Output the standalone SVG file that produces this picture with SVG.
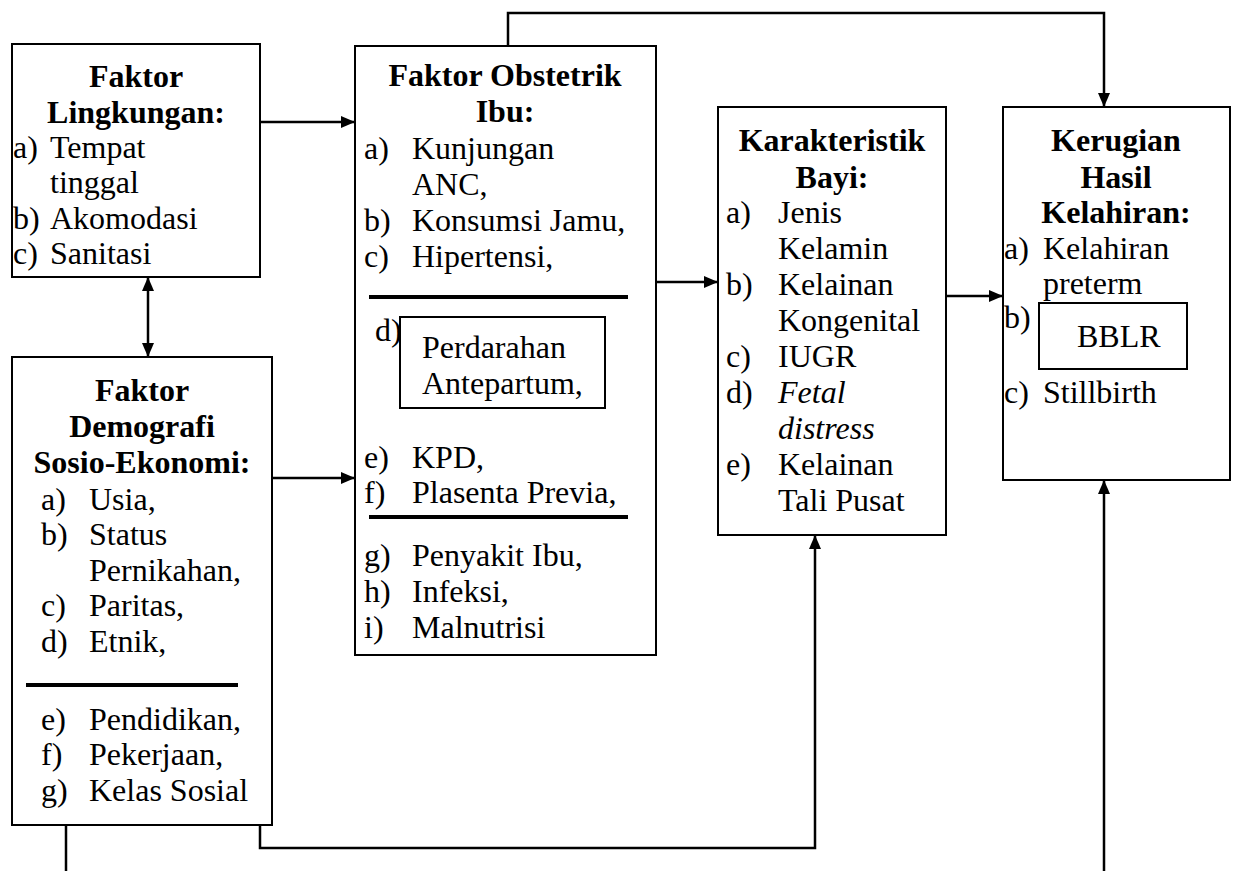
<svg xmlns="http://www.w3.org/2000/svg" width="1240" height="871" viewBox="0 0 1240 871" font-family="'Liberation Serif', 'DejaVu Serif', serif">
<defs>
<marker id="ah" markerUnits="userSpaceOnUse" markerWidth="14" markerHeight="12" viewBox="0 0 14 12" refX="14" refY="6" orient="auto-start-reverse">
<path d="M0,0 L14,6 L0,12 Z" fill="#000"/>
</marker>
</defs>
<style>
.box{fill:#fff;stroke:#000;stroke-width:2}
.sep{stroke:#000;stroke-width:4}
.con{fill:none;stroke:#000;stroke-width:2.5}
text{font-family:'Liberation Serif','DejaVu Serif',serif;font-size:32px;fill:#000}
.h{font-weight:bold;text-anchor:middle}
.i{font-style:italic}
</style>
<rect width="1240" height="871" fill="#fff"/>
<g id="connectors">
<line class="con" x1="260" y1="122" x2="355" y2="122" marker-end="url(#ah)"/>
<line class="con" x1="148" y1="277" x2="148" y2="357" marker-start="url(#ah)" marker-end="url(#ah)"/>
<line class="con" x1="272" y1="478" x2="355" y2="478" marker-end="url(#ah)"/>
<line class="con" x1="656" y1="282" x2="718" y2="282" marker-end="url(#ah)"/>
<line class="con" x1="946" y1="296" x2="1003" y2="296" marker-end="url(#ah)"/>
<polyline class="con" points="508,46 508,13 1104,13 1104,107" marker-end="url(#ah)"/>
<polyline class="con" points="260,825 260,848 815,848 815,535" marker-end="url(#ah)"/>
<line class="con" x1="66" y1="825" x2="66" y2="871"/>
<line class="con" x1="1104" y1="871" x2="1104" y2="480" marker-end="url(#ah)"/>
</g>
<g id="lingkungan">
<rect class="box" x="12" y="44" width="248" height="233"/>
<text class="h" x="136" y="87">Faktor</text>
<text class="h" x="136" y="123">Lingkungan:</text>
<text x="13" y="158">a)</text><text x="50" y="158">Tempat</text>
<text x="50" y="193">tinggal</text>
<text x="13" y="229">b)</text><text x="50" y="229">Akomodasi</text>
<text x="13" y="264">c)</text><text x="50" y="264">Sanitasi</text>
</g>
<g id="obstetrik">
<rect class="box" x="355" y="46" width="301" height="609"/>
<text class="h" x="505" y="86">Faktor Obstetrik</text>
<text class="h" x="505" y="122">Ibu:</text>
<text x="364" y="159">a)</text><text x="412" y="159">Kunjungan</text>
<text x="412" y="195">ANC,</text>
<text x="364" y="231">b)</text><text x="412" y="231">Konsumsi Jamu,</text>
<text x="364" y="267">c)</text><text x="412" y="267">Hipertensi,</text>
<line class="sep" x1="369" y1="297" x2="628" y2="297"/>
<text x="375" y="341">d)</text>
<rect class="box" x="400" y="317" width="205" height="91"/>
<text x="422" y="358">Perdarahan</text>
<text x="422" y="394">Antepartum,</text>
<text x="364" y="468">e)</text><text x="412" y="468">KPD,</text>
<text x="364" y="503">f)</text><text x="412" y="503">Plasenta Previa,</text>
<line class="sep" x1="369" y1="517" x2="628" y2="517"/>
<text x="364" y="566">g)</text><text x="412" y="566">Penyakit Ibu,</text>
<text x="364" y="602">h)</text><text x="412" y="602">Infeksi,</text>
<text x="364" y="638">i)</text><text x="412" y="638">Malnutrisi</text>
</g>
<g id="bayi">
<rect class="box" x="718" y="107" width="228" height="428"/>
<text class="h" x="832" y="151">Karakteristik</text>
<text class="h" x="832" y="188">Bayi:</text>
<text x="726" y="223">a)</text><text x="778" y="223">Jenis</text>
<text x="778" y="259">Kelamin</text>
<text x="726" y="295">b)</text><text x="778" y="295">Kelainan</text>
<text x="778" y="331">Kongenital</text>
<text x="726" y="367">c)</text><text x="778" y="367">IUGR</text>
<text x="726" y="403">d)</text><text class="i" x="778" y="403">Fetal</text>
<text class="i" x="778" y="439">distress</text>
<text x="726" y="475">e)</text><text x="778" y="475">Kelainan</text>
<text x="778" y="511">Tali Pusat</text>
</g>
<g id="kerugian">
<rect class="box" x="1003" y="107" width="227" height="373"/>
<text class="h" x="1116" y="151">Kerugian</text>
<text class="h" x="1116" y="188">Hasil</text>
<text class="h" x="1116" y="223">Kelahiran:</text>
<text x="1004" y="259">a)</text><text x="1043" y="259">Kelahiran</text>
<text x="1043" y="294">preterm</text>
<text x="1004" y="328">b)</text>
<rect class="box" x="1039" y="303" width="148" height="66"/>
<text x="1077" y="347">BBLR</text>
<text x="1004" y="403">c)</text><text x="1043" y="403">Stillbirth</text>
</g>
<g id="demografi">
<rect class="box" x="12" y="357" width="260" height="468"/>
<text class="h" x="142" y="401">Faktor</text>
<text class="h" x="142" y="437">Demografi</text>
<text class="h" x="142" y="473">Sosio-Ekonomi:</text>
<text x="41" y="510">a)</text><text x="89" y="510">Usia,</text>
<text x="41" y="545">b)</text><text x="89" y="545">Status</text>
<text x="89" y="581">Pernikahan,</text>
<text x="41" y="616">c)</text><text x="89" y="616">Paritas,</text>
<text x="41" y="652">d)</text><text x="89" y="652">Etnik,</text>
<line class="sep" x1="26" y1="685" x2="238" y2="685"/>
<text x="41" y="730">e)</text><text x="89" y="730">Pendidikan,</text>
<text x="41" y="765">f)</text><text x="89" y="765">Pekerjaan,</text>
<text x="41" y="801">g)</text><text x="89" y="801">Kelas Sosial</text>
</g>
</svg>
